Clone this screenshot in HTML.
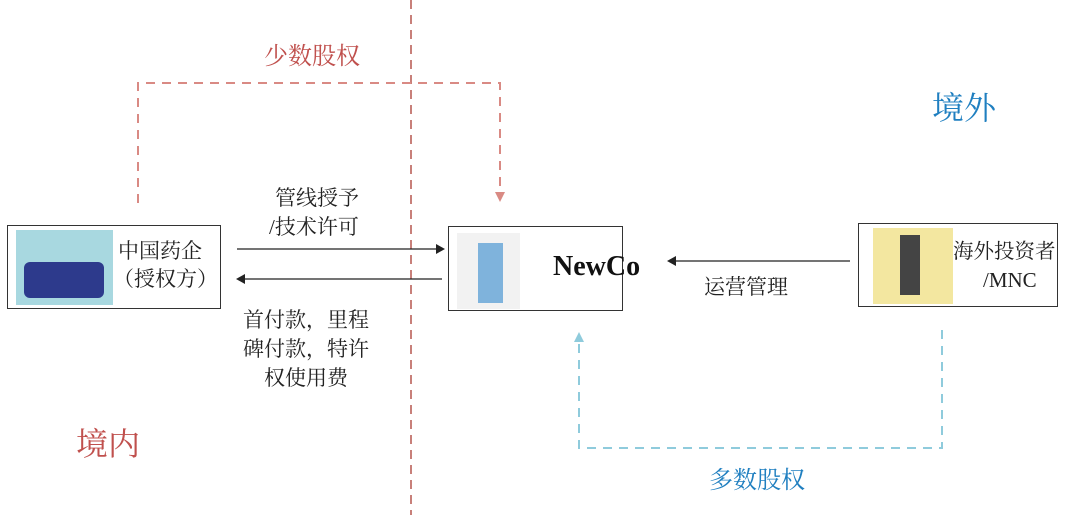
<!DOCTYPE html>
<html><head><meta charset="utf-8"><style>
body{margin:0;width:1080px;height:520px;background:#fff;position:relative;overflow:hidden;font-family:"Liberation Serif","Noto Serif CJK SC",serif;color:#222}
.t{position:absolute;white-space:nowrap;line-height:1.25}
.box{position:absolute;border:1.5px solid #333;background:#fff;box-sizing:border-box}
</style></head><body>
<svg width="1080" height="520" style="position:absolute;left:0;top:0">
<line x1="411" y1="0" x2="411" y2="515" stroke="#b5574f" stroke-width="1.5" stroke-dasharray="9,6"/>
<polyline points="138,203 138,83 500,83 500,194" fill="none" stroke="#d98a84" stroke-width="2" stroke-dasharray="9,7"/>
<polygon points="495,192 505,192 500,202" fill="#d98a84"/>
<polyline points="942,330 942,448 579,448 579,342" fill="none" stroke="#8fcbdc" stroke-width="2" stroke-dasharray="9,7"/>
<polygon points="574,342 584,342 579,332" fill="#8fcbdc"/>
<line x1="237" y1="249" x2="437" y2="249" stroke="#222" stroke-width="1.2"/>
<polygon points="436,244 445,249 436,254" fill="#222"/>
<line x1="243" y1="279" x2="442" y2="279" stroke="#222" stroke-width="1.2"/>
<polygon points="245,274 236,279 245,284" fill="#222"/>
<line x1="674" y1="261" x2="850" y2="261" stroke="#222" stroke-width="1.2"/>
<polygon points="676,256 667,261 676,266" fill="#222"/>
</svg>
<div class="box" style="left:7px;top:225px;width:214px;height:84px"></div>
<div style="position:absolute;left:16px;top:230px;width:97px;height:75px;background:#a8d8e0"></div>
<div style="position:absolute;left:24px;top:262px;width:80px;height:36px;background:#2d3a8c;border-radius:6px"></div>
<div class="t" style="left:118px;top:238px;font-size:21px">中国药企</div>
<div class="t" style="left:113px;top:266px;font-size:21px">（授权方）</div>
<div class="box" style="left:448px;top:226px;width:175px;height:85px"></div>
<div style="position:absolute;left:457px;top:233px;width:63px;height:76px;background:#f2f2f2"></div>
<div style="position:absolute;left:478px;top:243px;width:25px;height:60px;background:#7fb3dc"></div>
<div class="t" style="left:553px;top:249px;font-size:28px;font-weight:bold;color:#111">NewCo</div>
<div class="box" style="left:858px;top:223px;width:200px;height:84px"></div>
<div style="position:absolute;left:873px;top:228px;width:80px;height:76px;background:#f3e7a0"></div>
<div style="position:absolute;left:900px;top:235px;width:20px;height:60px;background:#444"></div>
<div class="t" style="left:953px;top:240px;font-size:20.5px">海外投资者</div>
<div class="t" style="left:983px;top:267px;font-size:21px">/MNC</div>
<div class="t" style="left:275px;top:185px;font-size:21px">管线授予</div>
<div class="t" style="left:269px;top:214px;font-size:21px">/技术许可</div>
<div class="t" style="left:243px;top:306px;font-size:21px;line-height:29px;text-align:center">首付款，里程<br>碑付款，特许<br>权使用费</div>
<div class="t" style="left:704px;top:274px;font-size:21px">运营管理</div>
<div class="t" style="left:264px;top:42px;font-size:24px;color:#c0504d">少数股权</div>
<div class="t" style="left:932px;top:88px;font-size:32px;color:#1f7fc0">境外</div>
<div class="t" style="left:76px;top:424px;font-size:32px;color:#c0504d">境内</div>
<div class="t" style="left:709px;top:466px;font-size:24px;color:#1f7fc0">多数股权</div>
</body></html>
